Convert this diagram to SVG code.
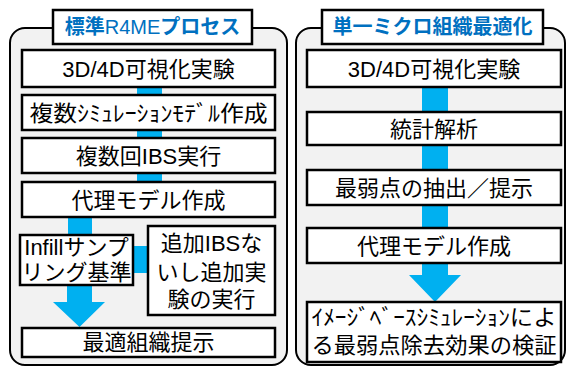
<svg xmlns="http://www.w3.org/2000/svg" width="567" height="367" viewBox="0 0 567 367">
<style>
.panel{fill:#f2f2f2;stroke:#000;stroke-width:2}
.box{fill:#fff;stroke:#000;stroke-width:2.5}
.title{fill:#fff;stroke:#000;stroke-width:2.5}
.t{font-family:"Liberation Sans","Noto Sans CJK JP",sans-serif;font-size:22px;fill:#000;text-anchor:middle}
.tt{font-family:"Liberation Sans","Noto Sans CJK JP",sans-serif;font-size:20px;fill:#0070c0;font-weight:bold;text-anchor:middle}
.c{fill:#00b0f0}
</style>
<rect width="567" height="367" fill="#fff"/>
<g id="panel-left">
<rect class="panel" x="10" y="28" width="277" height="337" rx="15"/>
<rect class="title" x="53" y="10" width="199" height="34"/>
<text class="tt" x="152.5" y="34">標準<tspan font-weight="normal">R4ME</tspan>プロセス</text>
</g>
<g id="panel-right">
<rect class="panel" x="296" y="28" width="269" height="337" rx="15"/>
<rect class="title" x="322" y="10" width="221" height="34"/>
<text class="tt" x="432.5" y="34">単一ミクロ組織最適化</text>
</g>
<g id="connectors">
<rect class="c" x="137" y="85" width="25" height="12"/>
<rect class="c" x="137" y="128" width="25" height="12"/>
<rect class="c" x="137" y="171" width="25" height="13"/>
<rect class="c" x="68" y="215" width="24" height="22"/>
<rect class="c" x="131" y="246" width="19" height="27"/>
<polygon class="c" points="67,284 92,284 92,302 105,302 79.5,327 53,302 67,302"/>
<rect class="c" x="422" y="85" width="26" height="29"/>
<rect class="c" x="422" y="143" width="26" height="29"/>
<rect class="c" x="422" y="203" width="26" height="27"/>
<polygon class="c" points="422,261 448,261 448,275 461,275 435,302 409,275 422,275"/>
</g>
<g id="l1"><rect class="box" x="22" y="50" width="253" height="37"/><text class="t" x="148.5" y="77">3D/4D可視化実験</text></g>
<g id="l2"><rect class="box" x="22" y="95" width="253" height="35"/><text class="t" x="148.5" y="120.5" textLength="238" lengthAdjust="spacingAndGlyphs">複数ｼﾐｭﾚｰｼｮﾝﾓﾃﾞﾙ作成</text></g>
<g id="l3"><rect class="box" x="22" y="138" width="253" height="35"/><text class="t" x="148.5" y="163.5">複数回IBS実行</text></g>
<g id="l4"><rect class="box" x="22" y="182" width="253" height="35"/><text class="t" x="148.5" y="207.5">代理モデル作成</text></g>
<g id="l5"><rect class="box" x="20" y="235" width="113" height="50"/><text class="t" x="76.5" y="255">Infillサンプ</text><text class="t" x="76.5" y="280">リング基準</text></g>
<g id="l6"><rect class="box" x="148" y="226" width="127" height="89"/><text class="t" x="211.5" y="251">追加IBSな</text><text class="t" x="211.5" y="280">いし追加実</text><text class="t" x="211.5" y="307">験の実行</text></g>
<g id="l7"><rect class="box" x="22" y="328" width="253" height="29"/><text class="t" x="148.5" y="350">最適組織提示</text></g>
<g id="r1"><rect class="box" x="307" y="50" width="254" height="37"/><text class="t" x="434" y="77">3D/4D可視化実験</text></g>
<g id="r2"><rect class="box" x="307" y="112" width="254" height="33"/><text class="t" x="434" y="136.5">統計解析</text></g>
<g id="r3"><rect class="box" x="307" y="170" width="254" height="35"/><text class="t" x="434" y="195.5">最弱点の抽出／提示</text></g>
<g id="r4"><rect class="box" x="307" y="228" width="254" height="35"/><text class="t" x="434" y="253.5">代理モデル作成</text></g>
<g id="r5"><rect class="box" x="307" y="302" width="254" height="60"/><text class="t" x="434" y="325" textLength="245" lengthAdjust="spacingAndGlyphs">ｲﾒｰｼﾞﾍﾞｰｽｼﾐｭﾚｰｼｮﾝによ</text><text class="t" x="434" y="353" textLength="245" lengthAdjust="spacingAndGlyphs">る最弱点除去効果の検証</text></g>
</svg>
